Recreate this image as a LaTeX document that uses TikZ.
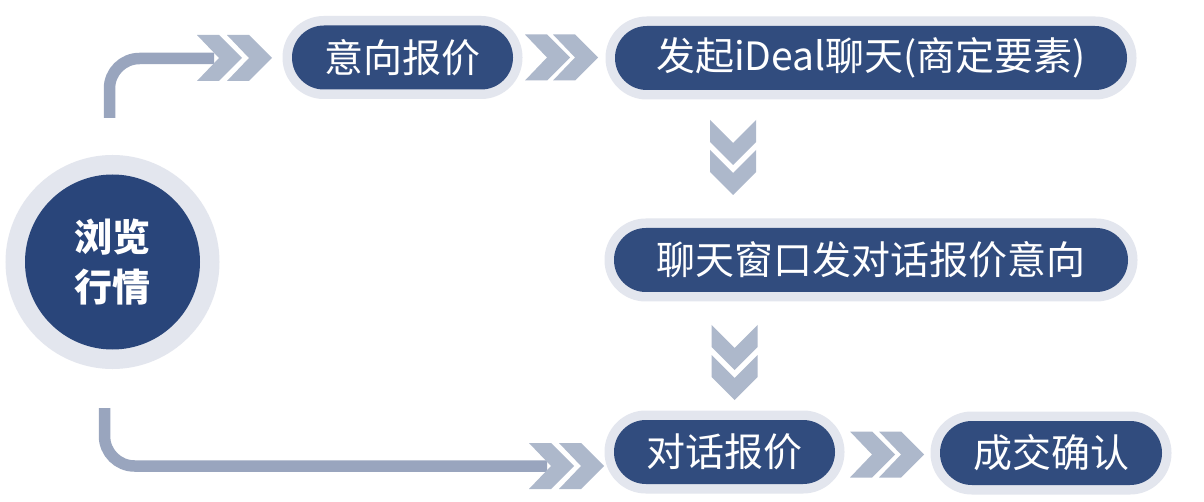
\documentclass[tikz,border=0pt]{standalone}
\usepackage{fontspec}
\setmainfont{Noto Sans CJK SC}
\definecolor{halo}{HTML}{E3E6EE}
\definecolor{pillc}{HTML}{314C7E}
\definecolor{circc}{HTML}{29457A}
\definecolor{linec}{HTML}{99A5BE}
\definecolor{chevc}{HTML}{ADB8CB}
\tikzset{
  pill/.style={shape=rectangle, fill=pillc, rounded corners=31.9pt, minimum height=64pt,
    inner sep=0pt, text=white, font=\fontsize{39}{42}\selectfont,
    preaction={draw=halo, line width=19pt}},
  flow/.style={draw=linec, line width=11.5pt, rounded corners=30pt},
  hchev/.pic={\fill[chevc] (0,-23)--(22,-23)--(45,0)--(22,23)--(0,23)--(22,0)--cycle;},
  vchev/.pic={\fill[chevc] (-23,0)--(0,23)--(23,0)--(23,22)--(0,45)--(-23,22)--cycle;}
}
\begin{document}
\begin{tikzpicture}[x=1pt,y=-1pt]
\path[use as bounding box, fill=white] (0,0) rectangle (1204,502);
% circle
\node[circle, fill=circc, minimum size=175pt, inner sep=0pt, text=white,
  preaction={draw=halo, line width=39pt},
  font=\bfseries\fontsize{38}{50}\selectfont, align=center] (browse) at (112.5,262) {浏览\\行情};
% pills
\node[pill, minimum width=221pt] (quote) at (402.5,57.5) {意向报价};
\node[pill, minimum width=512pt] (chat) at (871,58) {发起iDeal聊天(商定要素)};
\node[pill, minimum width=514pt] (window) at (871,260) {聊天窗口发对话报价意向};
\node[pill, minimum width=221pt] (dialog) at (724.5,452) {对话报价};
\node[pill, minimum width=222pt] (deal) at (1051,453) {成交确认};
% connector lines
\coordinate (topstart) at (109.5,118);
\coordinate (topend) at (214,58.5);
\coordinate (botstart) at (104.5,408);
\coordinate (botend) at (547,466);
\draw[flow] (topstart) |- (topend);
\draw[flow] (botstart) |- (botend);
% chevrons
\pic at (197,58) {hchev};
\pic at (227,58) {hchev};
\pic at (525,57.5) {hchev};
\pic at (553,57.5) {hchev};
\pic at (529,466) {hchev};
\pic at (559,466) {hchev};
\pic at (850,454.5) {hchev};
\pic at (879,454.5) {hchev};
\pic at (733,120) {vchev};
\pic at (733,150) {vchev};
\pic at (734.5,325) {vchev};
\pic at (734.5,355) {vchev};
\end{tikzpicture}
\end{document}
